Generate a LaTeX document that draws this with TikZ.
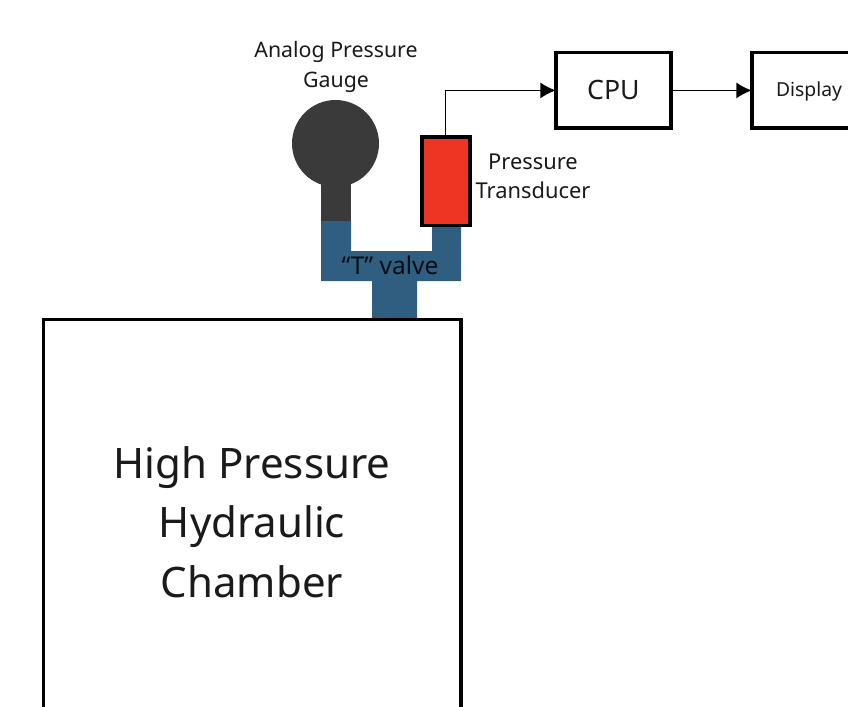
\documentclass[tikz,border=0pt]{standalone}
\usepackage{fontspec}
\setmainfont{Noto Sans}
\definecolor{valve}{HTML}{2F5E80}
\definecolor{gauge}{HTML}{3A3A3A}
\definecolor{trans}{HTML}{EE3423}
\definecolor{txt}{HTML}{1A1A1A}
\usetikzlibrary{arrows.meta}
\tikzset{
  px/.style={x=0.75pt,y=-0.75pt},
  blockbox/.style={draw=black,line width=2.7pt,fill=white,inner sep=0pt,outer sep=0pt,text=txt},
  conn/.style={draw=black,line width=1pt,-{Latex[length=11.5pt,width=12pt]}},
  lbl/.style={inner sep=0pt,align=center,text=txt},
}
\begin{document}
\begin{tikzpicture}[px]
\useasboundingbox (0,0) rectangle (848,706);
\clip (0,0) rectangle (848,706);
% valve
\fill[valve] (321,221) -- (351,221) -- (351,251) -- (432,251) -- (432,226) -- (461,226) -- (461,281) -- (417,281) -- (417,319) -- (372,319) -- (372,281) -- (321,281) -- cycle;
% gauge
\fill[gauge] (335.5,143.5) circle [radius=43.5];
\fill[gauge] (321,170) rectangle (351,221);
% chamber
\node[blockbox,minimum width=312.9pt,minimum height=330pt,anchor=north west] (chamber) at (43.5,319.5) {};
\node[lbl,font=\fontsize{31.5}{45}\selectfont] (chamberlabel) at (252,522) {High Pressure\\[-0.5pt]Hydraulic\\[-0.5pt]Chamber};
% transducer
\node[blockbox,fill=trans,minimum width=36pt,minimum height=66.5pt,anchor=north west] (trans) at (421.7,137) {};
% boxes
\node[blockbox,minimum width=86.6pt,minimum height=56.6pt,anchor=north west] (cpu) at (555.7,52.7) {};
\node[lbl,font=\fontsize{20}{24}\selectfont] (cpulabel) at (cpu.center) {CPU};
\node[blockbox,minimum width=100pt,minimum height=56.6pt,anchor=north west] (display) at (751.7,52.7) {};
\node[lbl,font=\fontsize{14.5}{17}\selectfont] (displaylabel) at (809,91) {Display};
% connectors
\draw[conn] (trans.north) |- (cpu.west);
\draw[conn] (cpu.east) -- (display.west);
% labels
\node[lbl,font=\fontsize{16}{23}\selectfont] (gaugelabel) at (336,67) {Analog Pressure\\Gauge};
\node[lbl,font=\fontsize{16.4}{22}\selectfont] (translabel) at (533,176) {Pressure\\Transducer};
\node[lbl,font=\fontsize{18.4}{22}\selectfont,text=black!85!valve] (valvelabel) at (390,265) {“T” valve};
\end{tikzpicture}
\end{document}
